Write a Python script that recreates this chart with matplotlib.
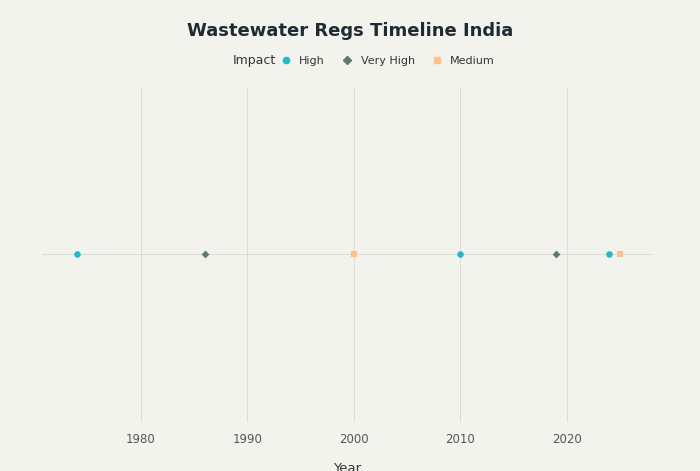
import matplotlib.pyplot as plt
from matplotlib.lines import Line2D

years = [1974, 1986, 2000, 2010, 2019, 2024, 2025]
impact = ["High", "Very High", "Medium", "High", "Very High", "High", "Medium"]
levels = ["High", "Very High", "Medium"]
tickYears = [1980, 1990, 2000, 2010, 2020]

colors = {"High": "#1FB8CD", "Very High": "#5D7B6F", "Medium": "#FFC185"}
markers = {"High": "o", "Very High": "D", "Medium": "s"}
bg = "#F3F3EE"

fig = plt.figure(figsize=(7, 4.71), dpi=100)
fig.set_facecolor(bg)
ax = fig.add_axes([0.06, 0.105, 0.871, 0.71])
ax.set_facecolor(bg)

for lvl in levels:
  xs = [y for y, i in zip(years, impact) if i == lvl]
  ax.scatter(xs, [0]*len(xs), s=22 if lvl != "Very High" else 16, marker=markers[lvl],
             color=colors[lvl], zorder=3, linewidths=0)

ax.axhline(0, color="#dcdcd6", lw=0.7, zorder=1)
ax.set_xlim(1970.7, 2028.0)
ax.set_ylim(-1, 1)
ax.set_xticks(tickYears)
ax.set_xticklabels([str(t) for t in tickYears], color="#555555", fontsize=8.5)
ax.set_yticks([])
ax.grid(axis="x", color="#dcdcd6", lw=0.7, zorder=0)
ax.tick_params(axis="x", length=0, pad=8)
for s in ax.spines.values():
  s.set_visible(False)
ax.set_xlabel("Year", color="#333333", fontsize=9.5, labelpad=12)

fig.text(0.5, 0.935, "Wastewater Regs Timeline India", ha="center", va="center",
         fontsize=13, fontweight="bold", color="#1f2a33")

handles = [Line2D([], [], marker=markers[l], color=colors[l], ls="none",
                  markersize=4.5 if l != "Very High" else 4) for l in levels]
leg = fig.legend(handles, levels, loc="center", bbox_to_anchor=(0.55, 0.871), ncol=3,
                 frameon=False, fontsize=8, handletextpad=0.2, columnspacing=1.0)
for t in leg.texts:
  t.set_color("#333333")
fig.text(0.395, 0.871, "Impact", ha="right", va="center", fontsize=9, color="#333333")

fig.savefig("out.png", dpi=100, facecolor=bg)
